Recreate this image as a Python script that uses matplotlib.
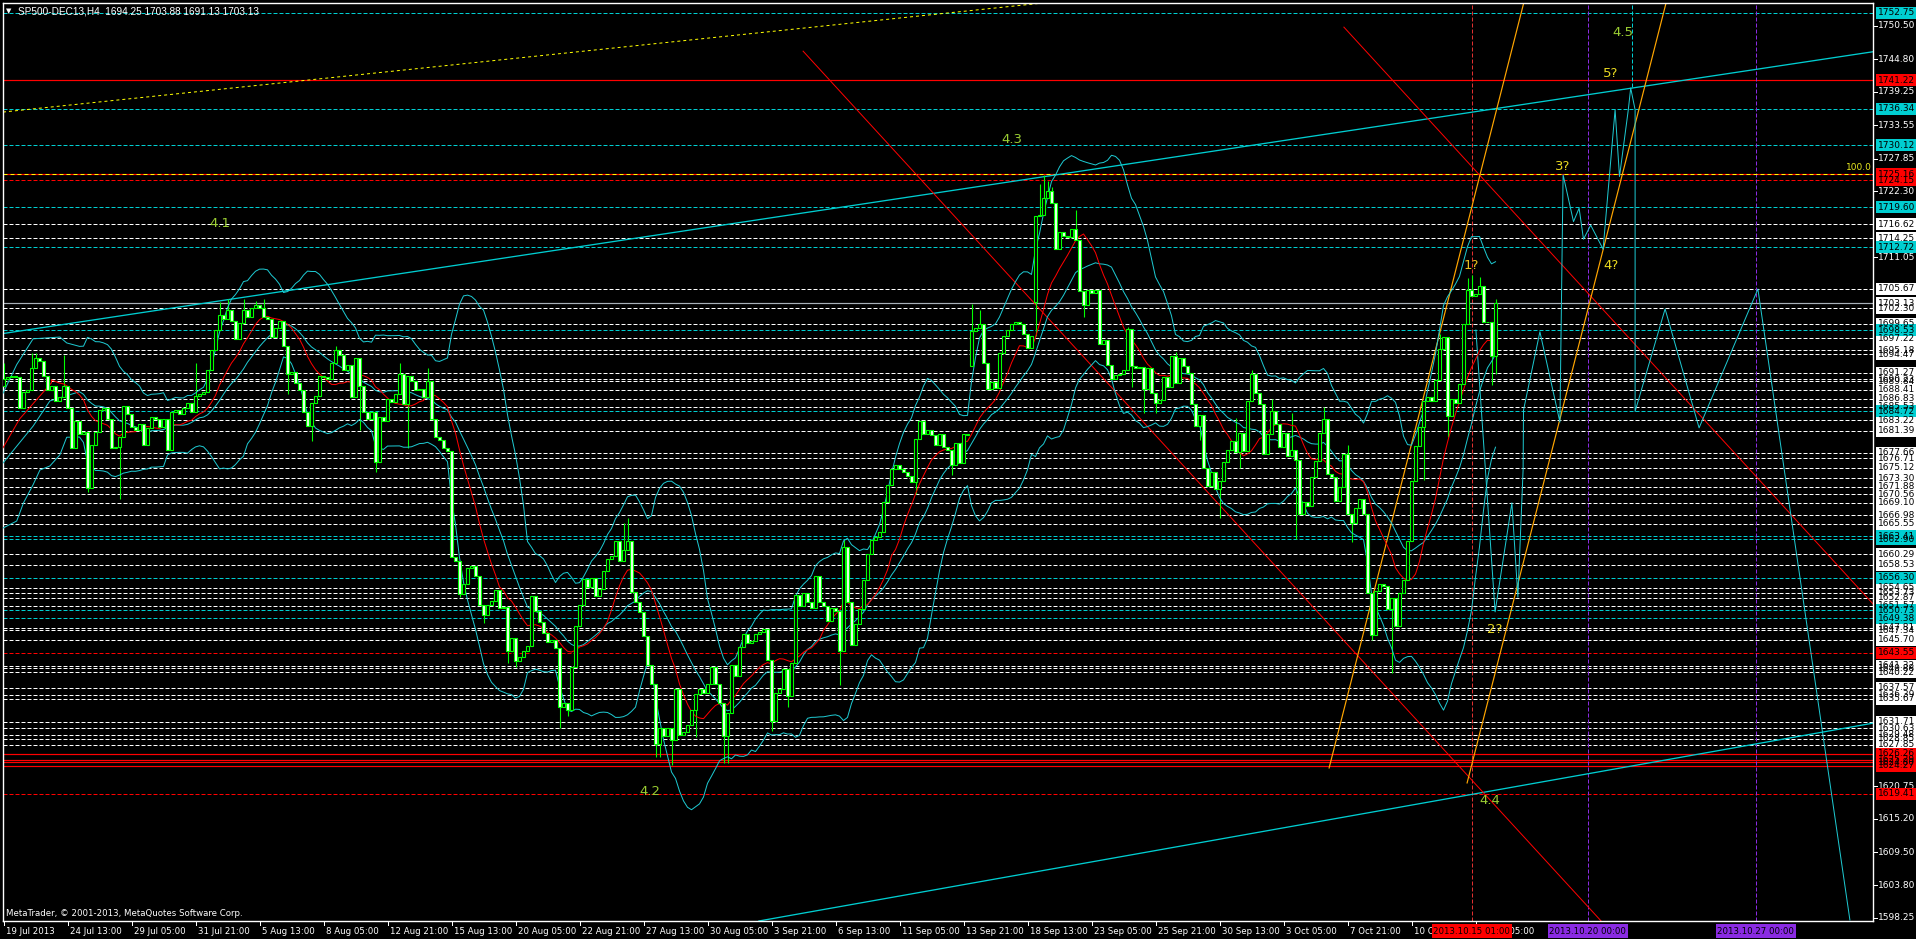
import numpy as np
import pandas as pd
import matplotlib
matplotlib.use("Agg")
import matplotlib.pyplot as plt
from matplotlib.patches import Rectangle

# ---------------- data ----------------
close = [
1690.2,1690.5,1690.8,1690.5,1685.3,1688.0,1688.4,1692.1,1693.9,1693.3,
1690.8,1688.4,1689.0,1686.5,1687.1,1689.0,1685.3,1678.4,1683.1,1680.9,
1681.2,1671.6,1679.0,1681.2,1684.9,1685.3,1683.4,1678.4,1678.6,1680.3,
1685.6,1684.3,1682.1,1681.5,1682.5,1679.0,1681.8,1683.7,1683.4,1682.1,
1683.4,1678.1,1684.6,1684.9,1684.3,1685.3,1686.2,1684.6,1687.4,1687.7,
1688.0,1691.8,1695.2,1698.6,1701.1,1700.5,1702.0,1700.2,1697.1,1699.8,
1702.0,1700.8,1702.3,1702.8,1702.3,1700.8,1700.5,1697.4,1698.9,1700.2,
1695.8,1691.1,1691.5,1689.6,1688.4,1684.6,1682.2,1686.2,1687.4,1690.8,
1690.5,1690.2,1693.0,1695.2,1694.3,1691.8,1692.7,1687.1,1693.9,1689.0,
1684.6,1683.4,1684.6,1676.0,1683.7,1683.1,1686.8,1686.3,1687.7,1691.1,
1685.9,1690.8,1689.9,1688.4,1688.5,1687.1,1689.9,1683.4,1680.3,1679.8,
1678.4,1677.9,1659.8,1659.1,1653.6,1655.2,1658.0,1658.3,1656.7,1651.7,
1649.9,1651.7,1652.3,1654.2,1651.1,1651.3,1643.9,1646.1,1642.1,1642.8,
1643.9,1644.7,1653.2,1650.6,1648.7,1646.9,1645.4,1645.7,1644.3,1634.3,
1634.9,1633.7,1641.0,1648.0,1651.7,1656.1,1654.7,1656.3,1653.2,1654.4,
1657.4,1659.6,1660.0,1662.6,1659.1,1661.1,1662.6,1653.9,1652.1,1650.4,
1646.3,1641.5,1638.1,1628.0,1630.6,1629.3,1630.7,1628.7,1637.3,1629.5,
1630.0,1631.2,1633.7,1636.4,1637.4,1636.7,1638.1,1641.0,1638.1,1634.9,
1629.3,1633.2,1641.5,1639.6,1644.5,1646.7,1645.2,1645.5,1646.7,1647.0,
1647.5,1642.3,1631.9,1636.7,1637.4,1640.8,1636.2,1641.8,1653.4,1651.5,
1653.7,1652.2,1651.2,1656.6,1652.2,1651.5,1648.9,1651.2,1650.7,1643.8,
1661.5,1652.2,1644.8,1648.5,1651.0,1655.9,1660.4,1662.8,1663.3,1664.1,
1669.2,1672.2,1674.8,1675.6,1674.8,1674.4,1673.7,1672.6,1680.0,1683.0,
1680.9,1681.5,1680.7,1678.9,1680.8,1678.6,1678.1,1675.6,1679.3,1675.9,
1680.8,1680.7,1698.5,1699.0,1699.6,1692.9,1688.6,1689.8,1688.7,1694.6,
1697.5,1698.6,1699.6,1699.9,1699.7,1698.0,1695.5,1697.5,1718.0,1718.2,
1721.2,1722.3,1720.2,1712.5,1715.4,1714.6,1714.5,1715.8,1714.0,1705.3,
1702.9,1705.4,1705.0,1705.5,1696.2,1696.9,1692.6,1690.3,1690.9,1691.1,
1691.7,1698.7,1692.5,1692.2,1692.3,1688.5,1692.2,1687.8,1686.2,1686.7,
1690.5,1688.9,1694.2,1689.6,1693.9,1692.5,1691.3,1686.0,1682.2,1684.1,
1675.0,1672.0,1674.4,1671.4,1672.9,1676.0,1678.2,1679.7,1677.7,1681.1,
1678.0,1686.5,1691.1,1687.9,1686.0,1677.4,1680.9,1684.8,1682.6,1678.6,
1681.1,1677.1,1678.2,1676.5,1667.2,1669.3,1668.6,1673.5,1676.3,1681.1,
1683.4,1674.0,1673.5,1669.5,1671.8,1677.4,1667.2,1665.7,1668.3,1669.7,
1667.2,1653.8,1646.5,1654.0,1655.3,1654.9,1650.9,1652.8,1648.1,1653.8,
1656.0,1662.6,1672.9,1678.8,1682.0,1686.5,1687.1,1686.5,1690.0,1695.3,
1697.4,1683.9,1686.8,1686.2,1689.4,1699.6,1705.5,1704.4,1704.7,1706.1,
1699.9,1700.0,1694.25,1703.13]
first_open = 1689.0
gap_open = {242: 1692.4, 258: 1703.4, 373: 1694.25}
wick_hi = {0: 1693.0, 7: 1694.6, 8: 1694.6, 15: 1694.3, 48: 1693.0, 54: 1703.3, 56: 1703.9,
           60: 1703.9, 63: 1703.6, 65: 1703.9, 83: 1695.8, 99: 1693.0, 106: 1692.1,
           155: 1665.7, 156: 1666.5, 210: 1662.8, 242: 1703.1, 244: 1702.0, 259: 1723.5,
           260: 1725.1, 261: 1724.0, 262: 1723.0, 268: 1719.1, 281: 1699.2, 293: 1694.9,
           308: 1683.5, 312: 1691.8, 317: 1686.9, 322: 1684.4, 330: 1685.5, 336: 1679.0,
           359: 1698.0, 366: 1707.4, 367: 1708.0, 369: 1707.7, 373: 1703.88}
wick_lo = {21: 1671.0, 29: 1669.7, 71: 1687.7, 77: 1679.7, 89: 1681.5, 93: 1674.4, 101: 1678.4,
           114: 1653.0, 120: 1648.6, 126: 1641.7, 128: 1641.0, 139: 1630.6, 141: 1632.8,
           163: 1625.8, 164: 1625.8, 167: 1624.3, 173: 1629.1, 180: 1624.7, 181: 1624.7,
           192: 1630.2, 196: 1634.3, 209: 1638.0, 228: 1670.6, 237: 1673.9, 258: 1697.5,
           270: 1700.9, 282: 1688.9, 285: 1684.4, 288: 1684.4, 299: 1679.8, 304: 1666.5,
           309: 1675.0, 323: 1663.0, 337: 1662.5, 342: 1645.7, 347: 1640.0, 355: 1673.0,
           361: 1680.4, 372: 1689.2, 373: 1691.13}

# indicator values at the left edge (history before the first bar is not on the chart)
bb_period, bb_dev, ma_period = 20, 2, 13
bb_head_upper_bar = [-0.125, 3.3, 7.4, 14.1, 15.8]
bb_head_upper = [1687.8, 1692.7, 1697.1, 1697.4, 1696.4]
bb_head_mid_bar = [-0.125, 7.4, 11.6]
bb_head_mid = [1675.9, 1682.2, 1686.5]
bb_head_lower_bar = [-0.125, 3.3, 5.0, 7.4, 9.1, 11.6, 14.1, 15.8]
bb_head_lower = [1664.8, 1666.0, 1669.1, 1672.2, 1674.7, 1675.4, 1677.3, 1680.3]
ma_head_bar = [-0.125, 4.0, 8.0, 12.0]
ma_head = [1678.5, 1683.4, 1686.5, 1689.6]

white_levels = [1716.62, 1714.25, 1705.67, 1703.13, 1702.30, 1699.65, 1697.22, 1695.18, 1694.47,
                1691.27, 1690.23, 1689.84, 1688.41, 1686.83, 1685.53, 1683.22, 1681.39, 1677.66,
                1676.71, 1675.12, 1673.30, 1671.88, 1670.56, 1669.10, 1666.98, 1665.55, 1660.29,
                1658.53, 1654.65, 1653.73, 1652.87, 1651.57, 1647.81, 1647.34, 1645.70, 1641.32,
                1640.88, 1640.22, 1637.57, 1636.39, 1635.67, 1631.71, 1630.63, 1629.48, 1628.85,
                1627.85]
cyan_levels = [1752.75, 1736.34, 1730.12, 1719.60, 1712.72, 1698.53, 1684.72, 1663.41, 1662.90,
               1656.30, 1650.73, 1649.38]
red_levels = [1741.22, 1725.16, 1626.26, 1625.29, 1624.80, 1624.27]
red_dash_levels = [1724.15, 1643.55, 1619.41]
fibo_level = 1725.16
bid_price = 1703.13

axis_ticks = [1750.50, 1744.80, 1739.25, 1733.55, 1727.85, 1722.30, 1711.05,
              1620.75, 1615.20, 1609.50, 1603.80, 1598.25]

date_labels = ["19 Jul 2013", "24 Jul 13:00", "29 Jul 05:00", "31 Jul 21:00", "5 Aug 13:00",
               "8 Aug 05:00", "12 Aug 21:00", "15 Aug 13:00", "20 Aug 05:00", "22 Aug 21:00",
               "27 Aug 13:00", "30 Aug 05:00", "3 Sep 21:00", "6 Sep 13:00", "11 Sep 05:00",
               "13 Sep 21:00", "18 Sep 13:00", "23 Sep 05:00", "25 Sep 21:00", "30 Sep 13:00",
               "3 Oct 05:00", "7 Oct 21:00", "10 Oct 13:00", "15 Oct 05:00"]
bars_per_label = 16

vline_red = (367, "2013.10.15 01:00")
vlines_purple = [(396, "2013.10.20 00:00"), (438, "2013.10.27 00:00")]

# trend lines: (bar1, price1, bar2, price2)
cyan_upper = (-0.125, 1698.0, 467.375, 1746.1)
cyan_lower = (188.6, 1597.7, 467.375, 1631.5)
yellow_dotted = (-0.2, 1735.8, 124.1, 1744.7)
red_diag = [(199.9, 1746.2, 420.0, 1582.4), (335.1, 1750.3, 470.0, 1649.9)]
orange_lines = [(331.4, 1623.85, 385.0, 1767.7), (365.9, 1621.3, 420.0, 1766.1)]

proj_bar = [368.1, 372.9, 377.1, 378.6, 379.9, 380.0, 384.1, 389.1, 389.9, 392.5, 393.9, 395.0,
            396.8, 399.9, 402.9, 404.0, 406.2, 406.8, 407.9, 407.9, 415.4, 423.9, 438.6, 461.6]
proj_price = [1698.6, 1650.5, 1669.1, 1653.0, 1674.7, 1684.9, 1698.3, 1682.9, 1725.1, 1717.1,
              1719.4, 1714.1, 1716.5, 1712.4, 1736.2, 1724.8, 1736.2, 1739.9, 1736.2, 1684.7,
              1702.2, 1681.9, 1705.6, 1597.9]

wave_labels = [("4.1", 54.1, 1716.7, '#9ACD32'), ("4.3", 252.1, 1731.2, '#9ACD32'),
               ("4.2", 161.6, 1619.9, '#9ACD32'), ("4.4", 371.6, 1618.3, '#9ACD32'),
               ("4.5", 404.8, 1749.4, '#9ACD32'), ("5?", 401.8, 1742.4, '#E8D820'),
               ("3?", 389.8, 1726.5, '#E8D820'), ("4?", 401.8, 1709.7, '#E8D820'),
               ("1?", 367.0, 1709.6, '#E8C020'), ("2?", 372.9, 1647.4, '#E8D820')]

title = "SP500-DEC13,H4  1694.25 1703.88 1691.13 1703.13"
copyright_txt = "MetaTrader, \u00a9 2001-2013, MetaQuotes Software Corp."

# ---------------- figure ----------------
W, H = 1916, 939
fig = plt.figure(figsize=(W / 100, H / 100), dpi=100, facecolor='black')
L, R, T, B = 3, 1873, 3, 921
ax = fig.add_axes([L / W, (H - B) / H, (R - L) / W, (B - T) / H], facecolor='black')
XMIN, XMAX = -0.125, 467.375
YMIN, YMAX = 1597.73, 1754.42
ax.set_xlim(XMIN, XMAX)
ax.set_ylim(YMIN, YMAX)
ax.set_xticks([]); ax.set_yticks([])
for s in ax.spines.values():
    s.set_color('white'); s.set_linewidth(1.0)

PX = 0.72
FONT = 'DejaVu Sans'
FS = 6.5
FSB = 6.2
CYAN = '#00CED1'
BBC = '#1EC8D0'
LIME = '#00FF00'
PURPLE = '#8A2BE2'
DASH = (0, (4, 2))

# horizontal levels
for p in white_levels:
    if p == bid_price:
        continue
    ax.axhline(p, color='white', lw=PX, ls=DASH, zorder=1)
for p in cyan_levels:
    ax.axhline(p, color=CYAN, lw=PX, ls=DASH, zorder=1)
for p in red_dash_levels:
    ax.axhline(p, color='red', lw=PX, ls=DASH, zorder=1)
for p in red_levels:
    ax.axhline(p, color='red', lw=1.2 * PX, zorder=1)
ax.axhline(fibo_level, color='yellow', lw=PX, ls=(0, (4, 3)), zorder=1.2)
ax.axhline(bid_price, color='#A8B0B8', lw=1.2 * PX, zorder=1.1)
ax.text(467.0, fibo_level + 0.4, "100.0", color='#E8E820', fontsize=FS, family=FONT,
        ha='right', va='bottom', zorder=5)

# vertical lines
ax.axvline(vline_red[0], color='#E03030', lw=PX, ls=DASH, zorder=1)
for b, _ in vlines_purple:
    ax.axvline(b, color=PURPLE, lw=PX, ls=DASH, zorder=1)
ax.plot([407.0, 407.0], [1740.0, YMAX], color=CYAN, lw=PX, ls=DASH, zorder=1)

# trend lines
def seg(t, **kw):
    ax.plot([t[0], t[2]], [t[1], t[3]], **kw)

seg(cyan_upper, color=CYAN, lw=1.3 * PX, zorder=2)
ax.axline((cyan_lower[0], cyan_lower[1]), (cyan_lower[2], cyan_lower[3]), color=CYAN, lw=1.3 * PX, zorder=2)
ax.axline((yellow_dotted[0], yellow_dotted[1]), (yellow_dotted[2], yellow_dotted[3]),
          color='yellow', lw=PX, ls=(0, (3, 3)), zorder=2)
for t in red_diag:
    seg(t, color='red', lw=PX, zorder=2)
for t in orange_lines:
    seg(t, color='#FFA500', lw=1.2 * PX, zorder=2)

# candles
n = len(close)
c = np.array(close)
o = np.concatenate([[first_open], c[:-1]])
for k, v in gap_open.items():
    o[k] = v
hi = np.maximum(o, c)
lo = np.minimum(o, c)
for k, v in wick_hi.items():
    hi[k] = max(hi[k], v)
for k, v in wick_lo.items():
    lo[k] = min(lo[k], v)
x = np.arange(n)
up = c >= o
ax.vlines(x, lo, hi, color=LIME, lw=PX * 1.1, zorder=3)
body_lo = np.minimum(o, c)
body_h = np.maximum(np.abs(c - o), 0.05)
ax.bar(x[up], body_h[up], bottom=body_lo[up], width=0.55, facecolor='black',
       edgecolor=LIME, linewidth=PX * 1.1, zorder=4)
ax.bar(x[~up], body_h[~up], bottom=body_lo[~up], width=0.55, facecolor='#F0FFF0',
       edgecolor=LIME, linewidth=PX * 1.1, zorder=4)

# indicators: Bollinger Bands (20, 2) and SMA(13) from the closes
s = pd.Series(c)
mid = s.rolling(bb_period).mean()
sd = s.rolling(bb_period).std(ddof=0)
upper = mid + bb_dev * sd
lower = mid - bb_dev * sd
ma = s.rolling(ma_period).mean()
k0 = bb_period - 1
m0 = ma_period - 1

def with_head(head_x, head_y, series, start):
    xs = list(head_x) + list(x[start:])
    ys = list(head_y) + list(series.values[start:])
    return xs, ys

for hx, hy, ser in [(bb_head_upper_bar, bb_head_upper, upper),
                    (bb_head_mid_bar, bb_head_mid, mid),
                    (bb_head_lower_bar, bb_head_lower, lower)]:
    xs, ys = with_head(hx, hy, ser, k0)
    ax.plot(xs, ys, color=BBC, lw=PX, zorder=3.5)
xs, ys = with_head(ma_head_bar, ma_head, ma, m0)
ax.plot(xs, ys, color='red', lw=PX, zorder=3.6)

# projection
ax.plot(proj_bar, proj_price, color=BBC, lw=PX, zorder=3.5)

# wave labels
for txt, bx, py, col in wave_labels:
    ax.text(bx, py, txt, color=col, fontsize=9.5, family=FONT, ha='center', va='center', zorder=6)

# ---------------- right price scale ----------------
axr = fig.add_axes([R / W, (H - B) / H, (W - R) / W, (B - T) / H], facecolor='black')
axr.set_xlim(R, W)
axr.set_ylim(YMIN, YMAX)
axr.axis('off')
BOXH = 12 / 5.859
for p in axis_ticks:
    axr.plot([R, R + 4], [p, p], color='white', lw=PX, clip_on=False)
    axr.text(R + 5, p, f"{p:.2f}", color='white', fontsize=FS, family=FONT, va='center', ha='left')

def box(p, face, txtc='black'):
    axr.add_patch(Rectangle((R + 3, p - BOXH / 2), 40, BOXH, facecolor=face, edgecolor='none',
                            zorder=5, clip_on=False))
    axr.text(R + 4.5, p, f"{p:.2f}", color=txtc, fontsize=FS, family=FONT, va='center',
             ha='left', zorder=6, clip_on=False)

for p in sorted(white_levels, reverse=True):
    box(p, 'white')
for p in sorted(red_levels + red_dash_levels):
    box(p, 'red')
for p in sorted(cyan_levels, reverse=True):
    box(p, CYAN)

# ---------------- bottom time scale ----------------
axb = fig.add_axes([L / W, 0, (R - L) / W, (H - B) / H], facecolor='black')
axb.set_xlim(XMIN, XMAX)
axb.set_ylim(H - B, 0)
axb.axis('off')
for k, lab in enumerate(date_labels):
    bx = k * bars_per_label
    axb.plot([bx, bx], [0, 4], color='white', lw=PX, clip_on=False)
    axb.text(bx + 0.5, 10, lab, color='white', fontsize=FSB, family=FONT, va='center', ha='left')

def date_box(bx, lab, face):
    axb.add_patch(Rectangle((bx - 10, 3), 20, 14, facecolor=face, edgecolor='none', zorder=5, clip_on=False))
    axb.text(bx, 10, lab, color='black', fontsize=FSB, family=FONT, va='center', ha='center', zorder=6)

date_box(vline_red[0], vline_red[1], 'red')
for b, lab in vlines_purple:
    date_box(b, lab, PURPLE)

# ---------------- header / footer ----------------
fig.text(6 / W, 1 - 11 / H, "\u25bc", color='white', fontsize=5, family=FONT, va='center', ha='left')
fig.text(18 / W, 1 - 11 / H, title, color='white', fontsize=7.2, family='Liberation Sans',
         va='center', ha='left')
fig.text(6 / W, 1 - 914 / H, copyright_txt, color='white', fontsize=FSB, family=FONT, va='center', ha='left')

fig.savefig("out.png", dpi=100, facecolor='black')
